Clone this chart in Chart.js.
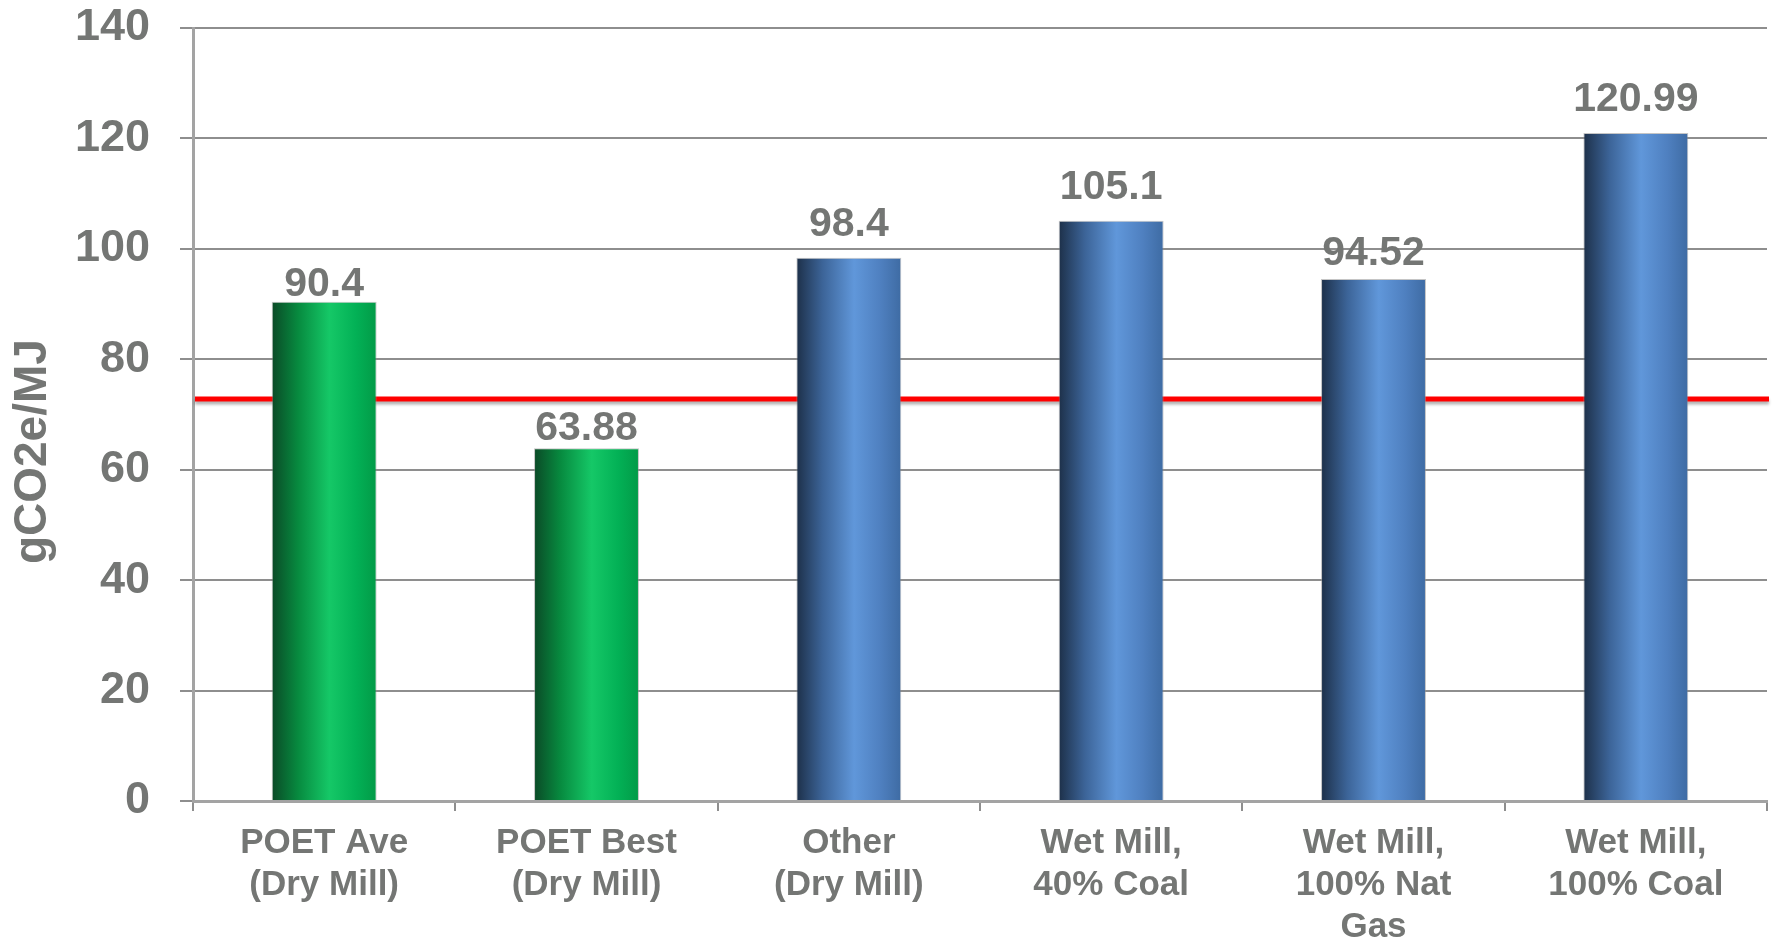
<!DOCTYPE html>
<html>
<head>
<meta charset="utf-8">
<script src="https://cdn.jsdelivr.net/npm/chart.js@4/dist/chart.umd.min.js"></script>
<style>
  html, body { margin: 0; padding: 0; background: #fff; }
  #wrap { width: 1773px; height: 941px; }
</style>
</head>
<body>
<div id="wrap"><canvas id="ghg-chart" width="1773" height="941"></canvas></div>
<script>
// categories and values
var categories = [
  ['POET Ave', '(Dry Mill)'],
  ['POET Best', '(Dry Mill)'],
  ['Other', '(Dry Mill)'],
  ['Wet Mill,', '40% Coal'],
  ['Wet Mill,', '100% Nat', 'Gas'],
  ['Wet Mill,', '100% Coal']
];
var poetValues  = [90.4, 63.88, null, null, null, null];
var otherValues = [null, null, 98.4, 105.1, 94.52, 120.99];
var yTicks = [0, 20, 40, 60, 80, 100, 120, 140];
var gasolineBaseline = 72.8;
var yTitle = 'gCO2e/MJ';

var textGray = '#747674';
var gridGray = '#8e8e8e';
var barShare = 0.4;
// gap in px between bar top and its value label (labels were hand placed)
var labelLift = [6, 8, 22, 22, 14, 22];

var greenStops = [[0, '#0b4a27'], [0.25, '#078a3f'], [0.55, '#15c867'], [0.8, '#03b156'], [1, '#029a47']];
var blueStops  = [[0, '#1d3049'], [0.25, '#3c6498'], [0.55, '#6097da'], [0.8, '#4f80c0'], [1, '#3e6ba3']];

var barFill = function(stops) {
  return function(ctx) {
    var chart = ctx.chart;
    var x = chart.scales.x;
    if (!chart.chartArea || !x) return stops[2][1];
    var center = x.getPixelForValue(ctx.dataIndex);
    var half = x.width / categories.length * barShare / 2;
    var g = chart.ctx.createLinearGradient(center - half, 0, center + half, 0);
    stops.forEach(function(s) { g.addColorStop(s[0], s[1]); });
    return g;
  };
};

var baselinePlugin = {
  id: 'baseline',
  beforeDatasetsDraw: function(chart) {
    var ctx = chart.ctx, area = chart.chartArea;
    var y = chart.scales.y.getPixelForValue(gasolineBaseline);
    ctx.save();
    ctx.strokeStyle = '#ff0000';
    ctx.lineWidth = 5;
    ctx.shadowColor = 'rgba(0,0,0,0.3)';
    ctx.shadowOffsetY = 3;
    ctx.shadowBlur = 3;
    ctx.beginPath();
    ctx.moveTo(area.left + 2, y);
    ctx.lineTo(area.right + 2, y);
    ctx.stroke();
    ctx.restore();
  }
};

var valueLabelPlugin = {
  id: 'valueLabels',
  afterDatasetsDraw: function(chart) {
    var ctx = chart.ctx;
    ctx.save();
    ctx.font = 'bold 41px "Liberation Sans", Arial, sans-serif';
    ctx.fillStyle = textGray;
    ctx.textAlign = 'center';
    ctx.textBaseline = 'alphabetic';
    chart.data.datasets.forEach(function(ds, di) {
      chart.getDatasetMeta(di).data.forEach(function(bar, i) {
        if (ds.data[i] == null) return;
        ctx.fillText(String(ds.data[i]), bar.x, bar.y - labelLift[i]);
      });
    });
    ctx.restore();
  }
};

var yTitlePlugin = {
  id: 'yTitle',
  afterDraw: function(chart) {
    var ctx = chart.ctx, area = chart.chartArea;
    ctx.save();
    ctx.translate(33, area.top + (area.bottom - area.top) * 0.548);
    ctx.rotate(-Math.PI / 2);
    ctx.font = 'bold 46px "Liberation Sans", Arial, sans-serif';
    ctx.fillStyle = textGray;
    ctx.textAlign = 'center';
    ctx.textBaseline = 'middle';
    ctx.fillText(yTitle, 0, 0);
    ctx.restore();
  }
};

new Chart(document.getElementById('ghg-chart'), {
  type: 'bar',
  data: {
    labels: categories,
    datasets: [{
      label: 'POET',
      data: poetValues,
      backgroundColor: barFill(greenStops),
      borderColor: 'rgba(150,150,150,0.55)',
      borderWidth: 1,
      borderSkipped: 'bottom'
    }, {
      label: 'Other',
      data: otherValues,
      backgroundColor: barFill(blueStops),
      borderColor: 'rgba(150,150,150,0.55)',
      borderWidth: 1,
      borderSkipped: 'bottom'
    }]
  },
  options: {
    responsive: false,
    animation: false,
    events: [],
    categoryPercentage: 1,
    barPercentage: barShare,
    layout: { padding: { top: 28, right: 6, left: 0, bottom: 0 } },
    plugins: {
      legend: { display: false },
      tooltip: { enabled: false }
    },
    scales: {
      x: {
        stacked: true,
        afterFit: function(scale) {
          scale.height = 140;
          scale.paddingLeft = 0;
          scale.paddingRight = 0;
        },
        grid: {
          drawOnChartArea: false,
          drawTicks: true,
          tickLength: 10,
          color: gridGray,
          lineWidth: 2,
          offset: true
        },
        border: { color: '#a3a3a3', width: 3 },
        ticks: {
          color: textGray,
          padding: 11,
          maxRotation: 0,
          autoSkip: false,
          font: { family: '"Liberation Sans", Arial, sans-serif', size: 35, weight: 'bold', lineHeight: 1.2 }
        }
      },
      y: {
        stacked: true,
        min: 0,
        max: 140,
        afterFit: function(scale) {
          scale.width = 193;
          scale.paddingTop = 0;
          scale.paddingBottom = 0;
        },
        afterBuildTicks: function(scale) {
          scale.ticks = yTicks.map(function(v) { return { value: v }; });
        },
        grid: {
          color: gridGray,
          lineWidth: 2,
          tickLength: 13,
          drawTicks: true
        },
        border: { color: '#a3a3a3', width: 3 },
        ticks: {
          color: textGray,
          padding: 30,
          font: { family: '"Liberation Sans", Arial, sans-serif', size: 45, weight: 'bold' }
        }
      }
    }
  },
  plugins: [baselinePlugin, valueLabelPlugin, yTitlePlugin]
});
</script>
</body>
</html>
